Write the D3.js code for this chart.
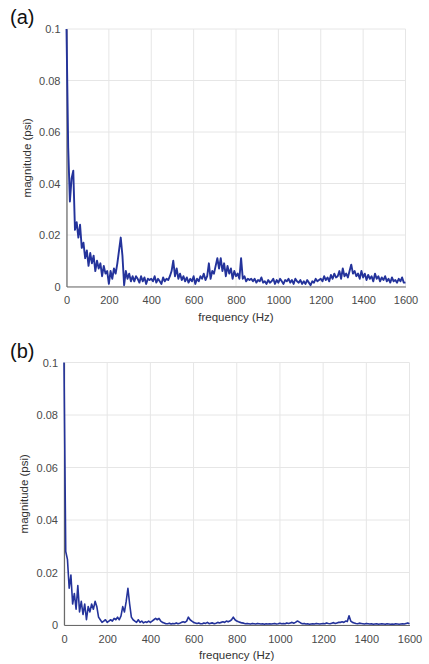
<!DOCTYPE html>
<html>
<head>
<meta charset="utf-8">
<script src="https://cdn.jsdelivr.net/npm/d3@7"></script>
<style>
  body { margin: 0; background: #fff; }
  svg { display: block; font-family: "Liberation Sans", Arial, sans-serif; }
  .grid line { stroke: #e6e6e6; }
  .axis path, .axis line { stroke: #6a6a6a; }
  .axis text { fill: #4a4a4a; font-size: 11px; }
</style>
</head>
<body>
<script>
// frequency bins (Hz), one every 8 Hz from 0 to 1600
const binHz = 8;

// spectrum magnitudes in milli-psi (0.001 psi), one per bin
const magA = [
  100, 54, 33, 42, 45, 22, 25, 19, 24, 15,
  17, 11, 14, 8, 13, 9, 12, 6, 10, 7,
  9, 4, 8, 5, 6, 1, 6, 3, 7, 5,
  9, 14, 19, 12, 0.5, 6, 3, 5, 2, 4,
  2, 4, 3, 1.5, 4, 2, 3.5, 1, 3, 2.5,
  3, 2, 4, 1.5, 3, 2, 1, 3.5, 2, 3,
  2.5, 4, 6, 10, 4, 7, 3, 5, 2.5, 4,
  2, 3.5, 1.5, 3, 2, 4, 1, 3, 2, 4,
  3, 5, 2.5, 4, 9, 3, 6, 5, 8, 11,
  7, 11, 6, 9, 4, 8, 5, 7, 3, 6,
  4, 5, 3, 11, 3, 4, 2, 3, 2.5, 3,
  2, 3, 1.5, 2.5, 2, 3.5, 1.5, 2, 1, 2.5,
  1.5, 2, 3, 1, 2.5, 1.5, 3, 2, 1, 2.5,
  2, 3, 1.5, 2.5, 1, 3, 2, 1.5, 2.5, 1,
  2, 1, 2.5, 1.5, 0.5, 2, 1.5, 3, 2, 2.5,
  3, 2, 4, 2.5, 3.5, 2, 4.5, 3, 5, 3.5,
  4, 6, 3, 7, 4, 5, 3.5, 6, 8.5, 5,
  6, 4, 5, 3, 6, 3.5, 5, 2.5, 4.5, 3,
  4, 2, 5, 3, 4, 2, 3.5, 2.5, 4, 2,
  3, 1.5, 3.5, 2, 2.5, 1.5, 3, 2, 3.5, 1.5,
  1.5
];

const magB = [
  100, 28, 25, 14, 19, 8, 12, 6, 15, 5,
  9, 4, 8, 2, 7, 5, 8, 6, 9, 7,
  3, 2, 1, 1.5, 2, 1, 1.5, 2, 1.5, 2.5,
  2, 3, 2, 3.5, 7, 5, 9, 14, 8, 3,
  2, 1.5, 1, 2, 1, 1.5, 0.8, 1.2, 1, 1.5,
  1, 1.5, 2, 2.5, 2, 2.5, 1.5, 1, 0.8, 0.5,
  0.5, 0.7, 0.4, 0.6, 0.5, 0.8, 0.5, 0.7, 1, 1.2,
  1, 1.5, 3, 2, 1.5, 1, 0.8, 0.6, 0.8, 0.5,
  0.5, 0.8, 0.6, 1, 0.5, 0.7, 0.8, 0.5, 0.7, 1,
  0.8, 1, 1.2, 1, 1.5, 1.2, 1.5, 2, 3, 2,
  1.5, 1.2, 1, 0.8, 0.7, 0.5, 0.6, 0.5, 0.4, 0.6,
  0.5, 0.4, 0.6, 0.5, 0.4, 0.5, 0.3, 0.5, 0.4, 0.5,
  0.4, 0.5, 0.6, 0.4, 0.5, 0.7, 0.5, 0.6, 0.5, 0.8,
  0.6, 0.8, 1, 0.7, 1, 1.5, 1.2, 0.8, 0.5, 0.6,
  0.4, 0.5, 0.3, 0.4, 0.5, 0.4, 0.6, 0.5, 0.4, 0.5,
  0.6, 0.5, 0.8, 0.6, 0.5, 0.7, 0.9, 0.6, 0.8, 1,
  1, 1.2, 1, 1.5, 1.3, 3.5, 1.5, 1, 0.8, 0.6,
  0.5, 0.7, 0.6, 0.5, 0.4, 0.6, 0.5, 0.4, 0.5, 0.3,
  0.4, 0.5, 0.3, 0.4, 0.5, 0.4, 0.3, 0.5, 0.4, 0.3,
  0.4, 0.3, 0.5, 0.4, 0.3, 0.4, 0.5, 0.4, 0.6, 0.8,
  0.5
];

const xTicks = [0, 200, 400, 600, 800, 1000, 1200, 1400, 1600];
const yTicks = [0, 20, 40, 60, 80, 100];
const yTickLabels = ["0", "0.02", "0.04", "0.06", "0.08", "0.1"];

const svg = d3.select("body").append("svg")
  .attr("width", 429)
  .attr("height", 664);

function drawPanel(values, label, box, lineWidth) {
  const x = d3.scaleLinear().domain([0, 1600]).range([box.left, box.right]);
  const y = d3.scaleLinear().domain([0, 100]).range([box.bottom, box.top]);
  const g = svg.append("g");

  // grid
  const grid = g.append("g").attr("class", "grid");
  grid.selectAll(".vx").data(xTicks).join("line")
    .attr("x1", d => x(d)).attr("x2", d => x(d))
    .attr("y1", box.top).attr("y2", box.bottom);
  grid.selectAll(".hy").data(yTicks).join("line")
    .attr("class", "hy")
    .attr("x1", box.left).attr("x2", box.right)
    .attr("y1", d => y(d)).attr("y2", d => y(d));

  g.append("g").attr("class", "axis")
    .attr("transform", "translate(0," + box.bottom + ")")
    .call(d3.axisBottom(x).tickValues(xTicks).tickSize(0).tickPadding(10).tickFormat(d3.format("d")));

  g.append("g").attr("class", "axis")
    .attr("transform", "translate(" + box.left + ",0)")
    .call(d3.axisLeft(y).tickValues(yTicks).tickSize(0).tickPadding(6)
      .tickFormat((d, i) => yTickLabels[i]));

  g.selectAll(".axis .domain").attr("stroke-width", 1.2);

  const line = d3.line()
    .x((d, i) => x(i * binHz))
    .y(d => y(d));

  g.append("path")
    .datum(values)
    .attr("fill", "none")
    .attr("stroke", "#24339b")
    .attr("stroke-width", lineWidth)
    .attr("stroke-linejoin", "round")
    .attr("d", line);

  g.append("text")
    .attr("x", (box.left + box.right) / 2)
    .attr("y", box.bottom + 34)
    .attr("text-anchor", "middle")
    .attr("fill", "#333")
    .style("font-size", "11.5px")
    .text("frequency (Hz)");

  g.append("text")
    .attr("transform", "translate(" + (box.left - 36) + "," + ((box.top + box.bottom) / 2) + ") rotate(-90)")
    .attr("text-anchor", "middle")
    .attr("fill", "#333")
    .style("font-size", "11.5px")
    .text("magnitude (psi)");

  g.append("text")
    .attr("x", 10)
    .attr("y", box.top - 5)
    .attr("fill", "#111")
    .style("font-size", "20px")
    .text(label);
}

drawPanel(magA, "(a)", { left: 66.5, right: 405.5, top: 29, bottom: 286.5 }, 1.9);
drawPanel(magB, "(b)", { left: 64, right: 409.5, top: 362.5, bottom: 625 }, 1.6);
</script>
</body>
</html>
